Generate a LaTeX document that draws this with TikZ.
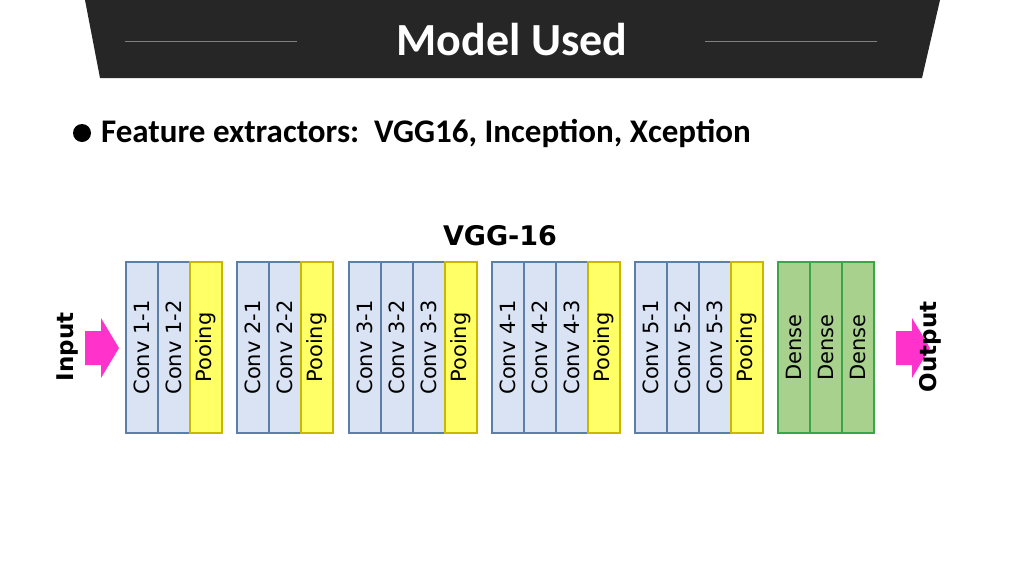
\documentclass[tikz,border=0pt]{standalone}
\usepackage{fontspec}
\setmainfont{Carlito}
\newfontfamily\vggfont{DejaVu Sans}
\definecolor{headbg}{HTML}{262626}
\definecolor{convfill}{HTML}{DAE3F3}
\definecolor{convline}{HTML}{5B7FA6}
\definecolor{poolfill}{HTML}{FFFF66}
\definecolor{poolline}{HTML}{C9B800}
\definecolor{densefill}{HTML}{A9D18E}
\definecolor{denseline}{HTML}{3AA648}
\definecolor{arrowpink}{HTML}{FF33CC}

\begin{document}
\begin{tikzpicture}[x=1pt,y=-1pt]
\tikzset{layer/.style={rectangle, minimum width=32pt, minimum height=171pt, inner sep=0pt, line width=1.2pt, font=\vggfont\fontsize{21}{21}\selectfont},
conv/.style={layer, fill=convfill, draw=convline},
pool/.style={layer, fill=poolfill, draw=poolline},
dense/.style={layer, fill=densefill, draw=denseline},
sidelabel/.style={font=\vggfont\bfseries\fontsize{23}{23}\selectfont, rotate=90}}
\useasboundingbox (0,0) rectangle (1024,576);
\fill[white] (0,0) rectangle (1024,576);

% header
\fill[headbg] (85,0) -- (940,0) -- (922,78) -- (100,78) -- cycle;
\node (title) [text=white, font=\bfseries\fontsize{46}{46}\selectfont] at (512,40) {Model Used};
\draw[gray, line width=0.8pt] (125,41) -- (297,41);
\draw[gray, line width=0.8pt] (705,41) -- (877,41);

% bullet
\fill[black] (82,133) circle (9pt);
\node (feat) [anchor=west, font=\bfseries\fontsize{33}{33}\selectfont, inner sep=0pt] at (101,133) {Feature extractors:\ \ VGG16, Inception, Xception};

\node (vgg) [font=\vggfont\bfseries\fontsize{27}{27}\selectfont] at (500,236) {VGG-16};

% layers
\foreach \x/\name/\lbl/\kind in {
  142/c11/Conv 1-1/conv, 174/c12/Conv 1-2/conv, 206/p1/Pooing/pool,
  253/c21/Conv 2-1/conv, 285/c22/Conv 2-2/conv, 317/p2/Pooing/pool,
  365/c31/Conv 3-1/conv, 397/c32/Conv 3-2/conv, 429/c33/Conv 3-3/conv, 461/p3/Pooing/pool,
  508/c41/Conv 4-1/conv, 540/c42/Conv 4-2/conv, 572/c43/Conv 4-3/conv, 604/p4/Pooing/pool,
  651/c51/Conv 5-1/conv, 683/c52/Conv 5-2/conv, 715/c53/Conv 5-3/conv, 747/p5/Pooing/pool,
  794/d1/Dense/dense, 826/d2/Dense/dense, 858/d3/Dense/dense}
  \node (\name) [\kind] at (\x,347.5) {\rotatebox{90}{\lbl}};

% input / output
\fill[arrowpink] (85,331) -- (101,331) -- (101,318) -- (119,348) -- (101,378) -- (101,365) -- (85,365) -- cycle;
\fill[arrowpink] (896,331) -- (912,331) -- (912,318) -- (930,348) -- (912,378) -- (912,365) -- (896,365) -- cycle;
\node (input) [sidelabel] at (68,347) {Input};
\node (output) [sidelabel] at (930,347) {Output};
\end{tikzpicture}
\end{document}
